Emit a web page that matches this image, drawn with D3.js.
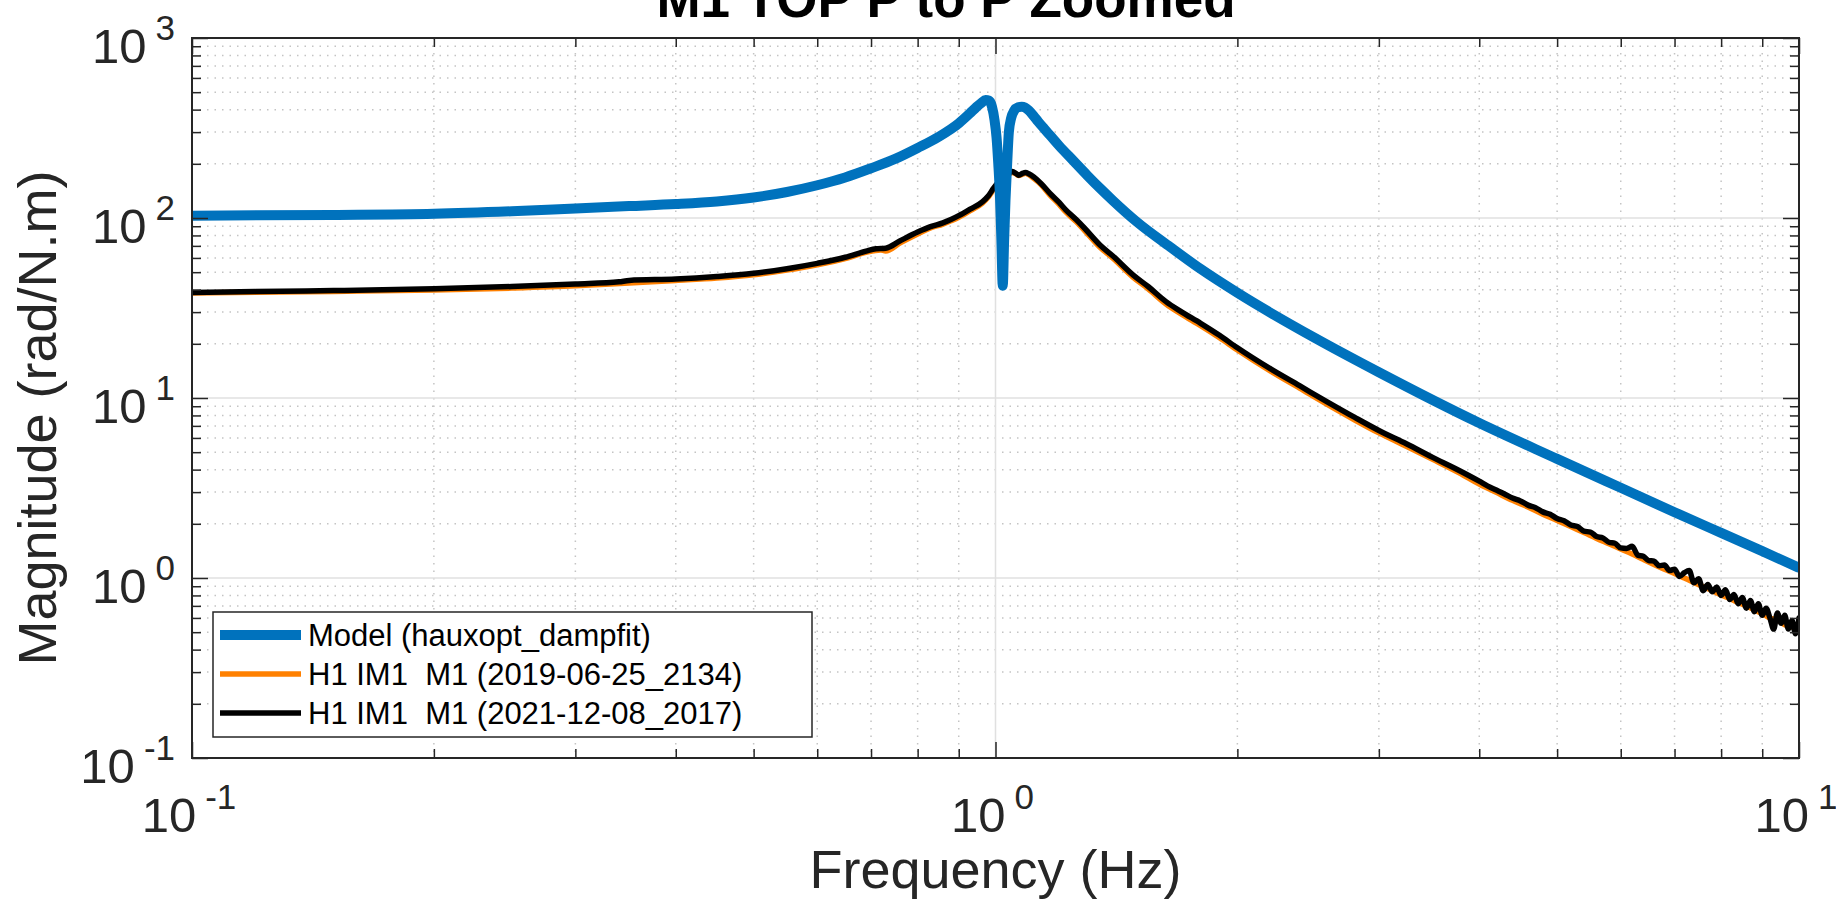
<!DOCTYPE html>
<html>
<head>
<meta charset="utf-8">
<script src="https://cdn.jsdelivr.net/npm/d3@7/dist/d3.min.js"></script>
<style>
	html, body { margin: 0; padding: 0; background: #fff; }
	svg { display: block; font-family: "Liberation Sans", Arial, Helvetica, sans-serif; }
</style>
</head>
<body>
<div id="chart"></div>
<script>
(function () {
	'use strict';

	// Model (hauxopt_dampfit)
	var modelFreq = [0.1, 0.15, 0.2, 0.25, 0.3, 0.35, 0.4, 0.45, 0.5, 0.55,
		0.6, 0.65, 0.7, 0.75, 0.8, 0.85, 0.9, 0.93, 0.945, 0.96,
		0.972, 0.982, 0.99, 0.997, 1.003, 1.008, 1.013, 1.017, 1.021, 1.025,
		1.029, 1.034, 1.039, 1.046, 1.055, 1.067, 1.078, 1.088, 1.1, 1.115,
		1.13, 1.15, 1.169, 1.2, 1.25, 1.3, 1.35, 1.4, 1.5, 1.65,
		1.8, 2.0, 2.5, 3.0, 4.0, 5.0, 6.0, 7.0, 8.0, 9.0, 10.0];
	var modelMag = [103, 104, 105.5, 109, 113, 116.5, 119.5, 123.5, 130, 139.5,
		152, 168, 189, 213, 245, 283, 336, 383, 410, 436,
		452, 448, 415, 352, 280, 200, 130, 75, 42, 75,
		125, 200, 300, 360, 395, 412, 415, 411, 396, 370,
		343, 313, 288, 252, 208, 173, 146, 125, 95, 69,
		52.1, 38.4, 21.5, 13.9, 7.26, 4.59, 3.17, 2.32, 1.78, 1.41, 1.14];

	// H1 IM1 M1 (2021-12-08_2017)
	var blackFreq = [0.1, 0.12, 0.15, 0.2, 0.25, 0.3, 0.34, 0.35, 0.4, 0.45,
		0.5, 0.55, 0.6, 0.65, 0.69, 0.71, 0.73, 0.76, 0.8, 0.83,
		0.86, 0.88, 0.9, 0.93, 0.963, 0.98, 0.994, 1.01, 1.024, 1.04,
		1.05, 1.06, 1.069, 1.08, 1.09, 1.1, 1.116, 1.14, 1.169, 1.2,
		1.223, 1.26, 1.29, 1.349, 1.4, 1.484, 1.55, 1.63, 1.7, 1.8,
		1.9, 2.0, 2.2, 2.39, 2.6, 2.8, 3.0, 3.25, 3.5, 3.75,
		4.0, 4.1, 4.2, 4.3, 4.4, 4.5, 4.6, 4.7, 4.8, 4.9,
		5.0, 5.1, 5.2, 5.3, 5.4, 5.5, 5.6, 5.7, 5.8, 5.9,
		6.0, 6.1, 6.2, 6.3, 6.4, 6.5, 6.6, 6.7, 6.8, 6.9,
		7.0, 7.1, 7.2, 7.3, 7.4, 7.5, 7.6, 7.7, 7.8, 7.9,
		8.0, 8.1, 8.2, 8.3, 8.4, 8.5, 8.6, 8.7, 8.8, 8.9,
		9.0, 9.1, 9.2, 9.3, 9.4, 9.5, 9.6, 9.7, 9.8, 9.9, 10.0];
	var blackMag = [38.6, 39.0, 39.5, 40.4, 41.6, 43.0, 44.2, 45.0, 45.8, 47.3,
		49.3, 52.3, 56.0, 60.5, 65.5, 67.5, 68.0, 74.5, 83.5, 89.5,
		94, 98, 103, 112, 123, 133, 146, 160, 169, 178,
		181, 177, 173, 177, 179, 176, 169, 155, 137, 122,
		111, 98, 88, 70.8, 61.5, 48.2, 41.5, 34.3, 30.3, 26.0,
		22.3, 19.0, 14.5, 11.7, 9.4, 7.8, 6.6, 5.55, 4.68, 4.02,
		3.45, 3.24, 3.08, 2.93, 2.78, 2.68, 2.54, 2.46, 2.33, 2.26,
		2.14, 2.08, 1.97, 1.93, 1.82, 1.80, 1.70, 1.67, 1.58, 1.56,
		1.47, 1.46, 1.50, 1.34, 1.32, 1.25, 1.24, 1.17, 1.18, 1.10,
		1.12, 1.02, 1.07, 1.10, 0.94, 0.99, 0.85, 0.92, 0.84, 0.89,
		0.80, 0.86, 0.76, 0.81, 0.72, 0.78, 0.68, 0.75, 0.65, 0.72,
		0.62, 0.68, 0.60, 0.52, 0.64, 0.56, 0.62, 0.52, 0.58, 0.49, 0.60];

	// H1 IM1 M1 (2019-06-25_2134)
	var orangeFreq = [0.1, 0.15, 0.2, 0.25, 0.3, 0.35, 0.4, 0.45, 0.5, 0.55,
		0.6, 0.65, 0.69, 0.72, 0.73, 0.76, 0.8, 0.83, 0.86, 0.88,
		0.9, 0.93, 0.963, 0.98, 0.994, 1.01, 1.024, 1.04, 1.05, 1.06,
		1.069, 1.08, 1.09, 1.1, 1.116, 1.14, 1.169, 1.2, 1.223, 1.26,
		1.29, 1.349, 1.4, 1.484, 1.55, 1.63, 1.7, 1.8, 1.9, 2.0,
		2.2, 2.39, 2.6, 2.8, 3.0, 3.25, 3.5, 3.75,
		4.0, 4.2, 4.4, 4.6, 4.8, 5.0, 5.2, 5.4, 5.6, 5.8,
		6.0, 6.2, 6.4, 6.6, 6.8, 7.0, 7.2, 7.4, 7.6, 7.8,
		8.0, 8.2, 8.4, 8.6, 8.8, 9.0, 9.2, 9.4, 9.6, 9.8, 10.0];
	var orangeMag = [38.3, 39.1, 39.8, 40.8, 42.0, 43.6, 45.0, 46.4, 48.4, 51.4,
		55.0, 59.5, 64.5, 66.5, 65.5, 72.5, 81.5, 88, 92.5, 96.5,
		101, 110, 121, 131, 144, 158, 167, 176, 179, 176,
		172, 175, 177, 174, 166, 153, 134, 119, 108, 95.5,
		85.5, 68.8, 59.8, 46.8, 40.3, 33.3, 29.4, 25.2, 21.6, 18.5,
		14.1, 11.35, 9.1, 7.55, 6.4, 5.38, 4.56, 3.9,
		3.33, 2.99, 2.70, 2.48, 2.26, 2.09, 1.93, 1.79, 1.66, 1.55,
		1.45, 1.36, 1.27, 1.19, 1.12, 1.06, 1.00, 0.945, 0.895, 0.85,
		0.805, 0.77, 0.73, 0.70, 0.665, 0.635, 0.60, 0.585, 0.55, 0.535, 0.515];

	var xDecades = [0.1, 1, 10];
	var xExponents = ['-1', '0', '1'];
	var yDecades = [0.1, 1, 10, 100, 1000];
	var yExponents = ['-1', '0', '1', '2', '3'];
	var legendLabels = ['Model (hauxopt_dampfit)', 'H1 IM1  M1 (2019-06-25_2134)', 'H1 IM1  M1 (2021-12-08_2017)'];

	var W = 1836, H = 908;
	var left = 192, right = 1799, top = 38, bottom = 758;
	var axisColor = '#262626';

	var svg = d3.select('#chart')
		.append('svg')
		.attr('width', W)
		.attr('height', H);

	var x = d3.scaleLog().domain([0.1, 10]).range([left, right]);
	var y = d3.scaleLog().domain([0.1, 1000]).range([bottom, top]);

	function isMajor(v) {
		var l = Math.log10(v);
		return Math.abs(l - Math.round(l)) < 1e-9;
	}
	var xMinor = x.ticks().filter(function (v) { return !isMajor(v); });
	var yMinor = y.ticks().filter(function (v) { return !isMajor(v); });

	// grid
	var grid = svg.append('g');
	grid.selectAll('.xminor').data(xMinor).enter().append('line')
		.attr('x1', x).attr('x2', x).attr('y1', top).attr('y2', bottom)
		.attr('stroke', '#c4c4c4').attr('stroke-width', 1.5).attr('stroke-dasharray', '1.5,6');
	grid.selectAll('.yminor').data(yMinor).enter().append('line')
		.attr('y1', y).attr('y2', y).attr('x1', left).attr('x2', right)
		.attr('stroke', '#c4c4c4').attr('stroke-width', 1.5).attr('stroke-dasharray', '1.5,6');
	grid.selectAll('.xmajor').data(xDecades).enter().append('line')
		.attr('x1', x).attr('x2', x).attr('y1', top).attr('y2', bottom)
		.attr('stroke', '#e0e0e0').attr('stroke-width', 1.5);
	grid.selectAll('.ymajor').data(yDecades).enter().append('line')
		.attr('y1', y).attr('y2', y).attr('x1', left).attr('x2', right)
		.attr('stroke', '#e0e0e0').attr('stroke-width', 1.5);

	// series
	svg.append('clipPath').attr('id', 'plotclip')
		.append('rect')
		.attr('x', left).attr('y', top)
		.attr('width', right - left).attr('height', bottom - top);

	var line = d3.line()
		.x(function (d) { return x(d[0]); })
		.y(function (d) { return y(d[1]); })
		.curve(d3.curveMonotoneX);

	var series = [
		{freq: orangeFreq, mag: orangeMag, color: '#ff8000', width: 5.5},
		{freq: blackFreq, mag: blackMag, color: '#000000', width: 5.5},
		{freq: modelFreq, mag: modelMag, color: '#0072bd', width: 10}
	];
	svg.append('g')
		.attr('clip-path', 'url(#plotclip)')
		.selectAll('path')
		.data(series)
		.enter()
		.append('path')
		.attr('d', function (s) { return line(d3.zip(s.freq, s.mag)); })
		.attr('fill', 'none')
		.attr('stroke', function (s) { return s.color; })
		.attr('stroke-width', function (s) { return s.width; })
		.attr('stroke-linejoin', 'round')
		.attr('stroke-linecap', 'round');

	// axes, ticks pointing inward on all four sides
	function drawAxis(gen, scale, values, size, tx, ty) {
		var g = svg.append('g')
			.attr('transform', 'translate(' + tx + ',' + ty + ')')
			.call(gen(scale).tickValues(values).tickSizeInner(-size).tickSizeOuter(0).tickFormat(''));
		g.select('.domain').remove();
		g.selectAll('.tick line').attr('stroke', axisColor).attr('stroke-width', 1.5);
	}
	drawAxis(d3.axisBottom, x, xDecades, 16, 0, bottom);
	drawAxis(d3.axisBottom, x, xMinor, 9, 0, bottom);
	drawAxis(d3.axisTop, x, xDecades, 16, 0, top);
	drawAxis(d3.axisTop, x, xMinor, 9, 0, top);
	drawAxis(d3.axisLeft, y, yDecades, 16, left, 0);
	drawAxis(d3.axisLeft, y, yMinor, 9, left, 0);
	drawAxis(d3.axisRight, y, yDecades, 16, right, 0);
	drawAxis(d3.axisRight, y, yMinor, 9, right, 0);

	svg.append('rect')
		.attr('x', left).attr('y', top)
		.attr('width', right - left).attr('height', bottom - top)
		.attr('fill', 'none')
		.attr('stroke', axisColor)
		.attr('stroke-width', 2);

	// tick labels as 10^n
	function powLabel(sel, exps) {
		sel.append('tspan').text('10');
		sel.append('tspan')
			.attr('dx', 9)
			.attr('dy', -23)
			.style('font-size', '35px')
			.text(function (d, i) { return exps[i]; });
	}
	svg.append('g').selectAll('text')
		.data(xDecades)
		.enter()
		.append('text')
		.attr('x', function (d) { return x(d) - 3; })
		.attr('y', 832)
		.attr('text-anchor', 'middle')
		.attr('fill', axisColor)
		.style('font-size', '49px')
		.call(powLabel, xExponents);
	svg.append('g').selectAll('text')
		.data(yDecades)
		.enter()
		.append('text')
		.attr('x', 175)
		.attr('y', function (d) { return y(d) + 25; })
		.attr('text-anchor', 'end')
		.attr('fill', axisColor)
		.style('font-size', '49px')
		.call(powLabel, yExponents);

	// labels and title
	svg.append('text')
		.attr('x', (left + right) / 2)
		.attr('y', 888)
		.attr('text-anchor', 'middle')
		.attr('fill', axisColor)
		.style('font-size', '54px')
		.text('Frequency (Hz)');
	svg.append('text')
		.attr('transform', 'translate(56,418) rotate(-90)')
		.attr('text-anchor', 'middle')
		.attr('fill', axisColor)
		.style('font-size', '54px')
		.text('Magnitude (rad/N.m)');
	svg.append('text')
		.attr('x', 946)
		.attr('y', 17)
		.attr('text-anchor', 'middle')
		.attr('fill', '#000')
		.style('font-size', '53px')
		.style('font-weight', 'bold')
		.text('M1 TOP P to P Zoomed');

	// legend
	var legend = svg.append('g');
	legend.append('rect')
		.attr('x', 213).attr('y', 612)
		.attr('width', 599).attr('height', 125)
		.attr('fill', '#fff')
		.attr('stroke', axisColor)
		.attr('stroke-width', 1.5);
	var legendSeries = [series[2], series[0], series[1]];
	var rows = legend.selectAll('.row')
		.data(legendSeries)
		.enter()
		.append('g')
		.attr('transform', function (d, i) { return 'translate(0,' + (635 + i * 39) + ')'; });
	rows.append('line')
		.attr('x1', 220).attr('x2', 301)
		.attr('stroke', function (s) { return s.color; })
		.attr('stroke-width', function (s) { return s.width; });
	rows.append('text')
		.attr('x', 308)
		.attr('y', 11)
		.attr('fill', '#000')
		.attr('xml:space', 'preserve')
		.style('white-space', 'pre')
		.style('font-size', '31px')
		.text(function (d, i) { return legendLabels[i]; });
}());
</script>
</body>
</html>
